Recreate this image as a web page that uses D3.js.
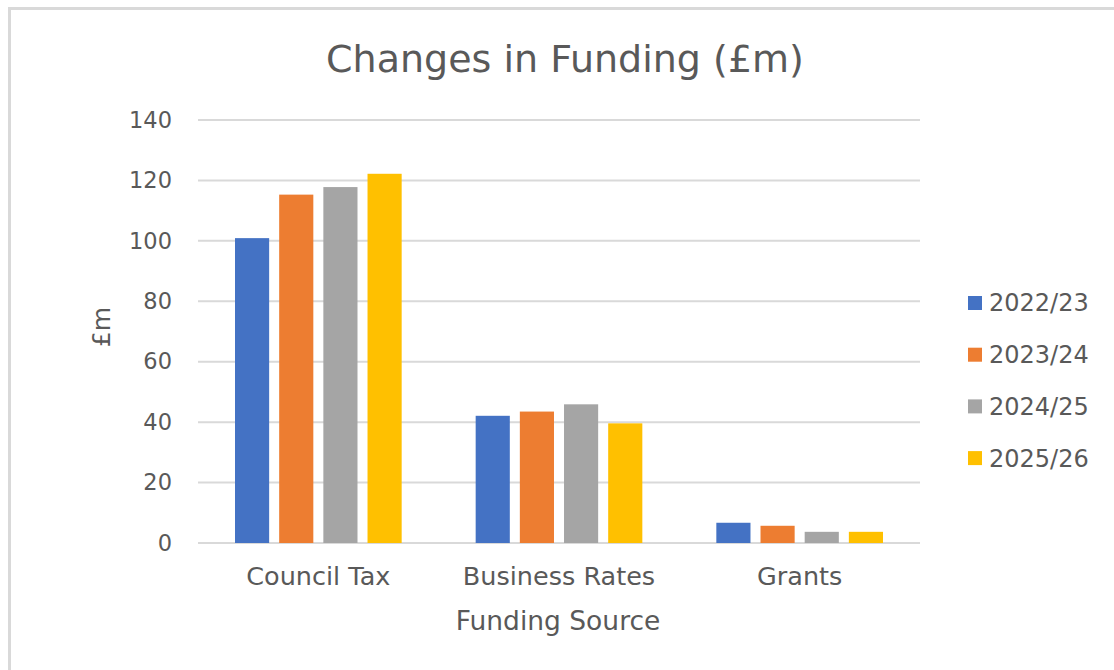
<!DOCTYPE html>
<html><head><meta charset="utf-8">
<script src="https://cdn.jsdelivr.net/npm/d3@7"></script>
<style>body{margin:0;background:#fff}svg text{font-family:"DejaVu Sans",sans-serif;fill:#595959}</style>
</head><body>
<svg id="c" width="1114" height="670"></svg>
<script>
const categories = ["Council Tax", "Business Rates", "Grants"];
const seriesNames = ["2022/23", "2023/24", "2024/25", "2025/26"];
const v2022 = [100.9, 42.1, 6.7];
const v2023 = [115.3, 43.5, 5.7];
const v2024 = [117.8, 45.9, 3.7];
const v2025 = [122.2, 39.6, 3.7];
const colors = ["#4472C4", "#ED7D31", "#A5A5A5", "#FFC000"];
const yTicks = [0, 20, 40, 60, 80, 100, 120, 140];
const series = [v2022, v2023, v2024, v2025];

const svg = d3.select("#c");
// outer border
svg.append("rect").attr("x", 9.5).attr("y", 8.5).attr("width", 1200).attr("height", 700)
  .attr("fill", "none").attr("stroke", "#d9d9d9").attr("stroke-width", 3);

const pLeft = 198, pRight = 920, pTop = 120, pBottom = 543;
const y = d3.scaleLinear().domain([0, 140]).range([pBottom, pTop]);
const x0 = d3.scaleBand().domain(categories).range([pLeft, pRight]).padding(0);
const x1 = d3.scaleBand().domain(seriesNames).range([37, x0.bandwidth() - 37]).paddingInner(0.227).paddingOuter(0);

// gridlines
svg.append("g").selectAll("line").data(yTicks).join("line")
  .attr("x1", pLeft).attr("x2", pRight).attr("y1", d => y(d)).attr("y2", d => y(d))
  .attr("stroke", "#d9d9d9").attr("stroke-width", 2);

// y axis labels
const yAxis = d3.axisLeft(y).tickValues(yTicks).tickSize(0).tickPadding(26);
const gy = svg.append("g").attr("transform", `translate(${pLeft},0)`).call(yAxis);
gy.select(".domain").remove();
gy.selectAll("text").style("font-size", "22.5px").attr("fill", "#595959");

// bars
const groups = svg.append("g").selectAll("g").data(categories).join("g")
  .attr("transform", d => `translate(${x0(d)},0)`);
groups.selectAll("rect").data((d, i) => seriesNames.map((s, j) => ({s, v: series[j][i], j})))
  .join("rect")
  .attr("x", d => x1(d.s)).attr("width", x1.bandwidth())
  .attr("y", d => y(d.v)).attr("height", d => y(0) - y(d.v))
  .attr("fill", d => colors[d.j]);

// x axis labels
const xAxis = d3.axisBottom(x0).tickSize(0).tickPadding(24);
const gx = svg.append("g").attr("transform", `translate(0,${pBottom})`).call(xAxis);
gx.select(".domain").remove();
gx.selectAll("text").style("font-size", "25.5px").attr("fill", "#595959");

// titles
svg.append("text").attr("x", 565).attr("y", 72).attr("text-anchor", "middle")
  .style("font-size", "38px").text("Changes in Funding (£m)");
svg.append("text").attr("x", 558).attr("y", 630).attr("text-anchor", "middle")
  .style("font-size", "26.5px").text("Funding Source");
svg.append("text").attr("transform", "translate(110,327) rotate(-90)").attr("text-anchor", "middle")
  .style("font-size", "25px").text("£m");

// legend
const lg = svg.append("g").selectAll("g").data(seriesNames).join("g")
  .attr("transform", (d, i) => `translate(968,${303 + i * 51.7})`);
lg.append("rect").attr("x", 0).attr("y", -7).attr("width", 14).attr("height", 14).attr("fill", (d, i) => colors[i]);
lg.append("text").attr("x", 21).attr("y", 0).attr("dy", "0.35em").style("font-size", "24px").text(d => d);
</script>
</body></html>
